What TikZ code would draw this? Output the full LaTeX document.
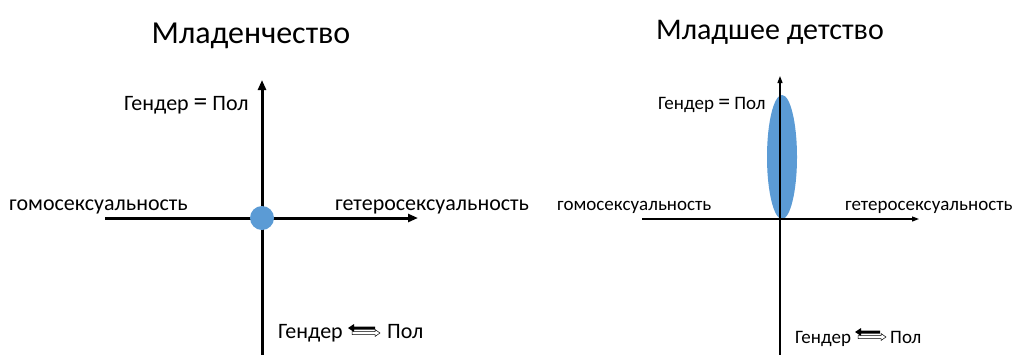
\documentclass[tikz,border=0pt]{standalone}
\usepackage{fontspec}
\setmainfont{Carlito}
\usetikzlibrary{arrows.meta,shapes.geometric}
\definecolor{dotblue}{HTML}{5B9BD5}
\tikzset{
  axisthick/.style={line width=3pt,-{Triangle[length=10pt,width=8pt]}},
  axisthin/.style={line width=1.2pt,-{Triangle[length=7pt,width=5pt]}},
  lbl/.style={anchor=base west,inner sep=0pt,font=\fontsize{22}{24}\selectfont},
  lblr/.style={anchor=base west,inner sep=0pt,font=\fontsize{19}{21}\selectfont},
  ttl/.style={anchor=base,inner sep=0pt,font=\fontsize{32}{34}\selectfont},
  ttlr/.style={anchor=base,inner sep=0pt,font=\fontsize{30}{34}\selectfont},
  blob/.style={fill=dotblue,draw=none},
}
\newcommand{\bigeq}{\scalebox{1.25}{=}}
\begin{document}
\begin{tikzpicture}[x=1pt,y=-1pt]
\useasboundingbox (0,0) rectangle (1017,354);
% ---------- left diagram ----------
\node[ttl] (t1) at (251,43) {Младенчество};
\coordinate (l-o) at (262,218);
\coordinate (l-top) at (262,80);
\coordinate (l-bot) at (262,356);
\coordinate (l-left) at (105,218);
\coordinate (l-right) at (418,218);
\draw[line width=3pt] (l-o) -- (l-bot);
\draw[axisthick] (l-o) -- (l-top);
\draw[line width=3pt] (l-left) -- (l-o);
\draw[axisthick] (l-o) -- (l-right);
\node[blob,circle,minimum size=24pt,inner sep=0pt] (dot) at (l-o) {};
\node[lbl] (l-eq) at (124,110) {Гендер \bigeq{} Пол};
\node[lbl] (l-homo) at (9,210) {гомосексуальность};
\node[lbl] (l-hetero) at (335,210) {гетеросексуальность};
\node[lbl] (l-g) at (278,338) {Гендер};
\node[lbl] (l-p) at (387,338) {Пол};
% two-way sign
\fill (348,328) -- (354,324) -- (354,326.5) -- (375,326.5) -- (375,329.5) -- (354,329.5) -- (354,332) -- cycle;
\draw[line width=0.5pt,fill=white] (352,331.5) -- (375,331.5) -- (375,329.5) -- (380,333) -- (375,336.5) -- (375,334.5) -- (352,334.5) -- cycle;
% ---------- right diagram ----------
\node[ttlr] (t2) at (770,39) {Младшее детство};
\coordinate (r-o) at (780,219);
\coordinate (r-top) at (780,76);
\coordinate (r-bot) at (780,356);
\coordinate (r-left) at (642,219);
\coordinate (r-right) at (919,219);
\node[blob,ellipse,minimum width=30pt,minimum height=124pt,inner sep=0pt] (ell) at (782,157) {};
\draw[line width=1.2pt] (r-o) -- (r-bot);
\draw[axisthin] (r-o) -- (r-top);
\draw[line width=1.2pt] (r-left) -- (r-o);
\draw[axisthin] (r-o) -- (r-right);
\node[lblr] (r-eq) at (658,109) {Гендер \bigeq{} Пол};
\node[lblr] (r-homo) at (557,210) {гомосексуальность};
\node[lblr] (r-hetero) at (845,210) {гетеросексуальность};
\node[lblr] (r-g) at (795,343) {Гендер};
\node[lblr] (r-p) at (890,343) {Пол};
\fill (855,332) -- (861,328) -- (861,330.5) -- (880,330.5) -- (880,333.5) -- (861,333.5) -- (861,336) -- cycle;
\draw[line width=0.5pt,fill=white] (858,335.5) -- (881,335.5) -- (881,333.5) -- (886,337) -- (881,340.5) -- (881,338.5) -- (858,338.5) -- cycle;
\end{tikzpicture}
\end{document}
